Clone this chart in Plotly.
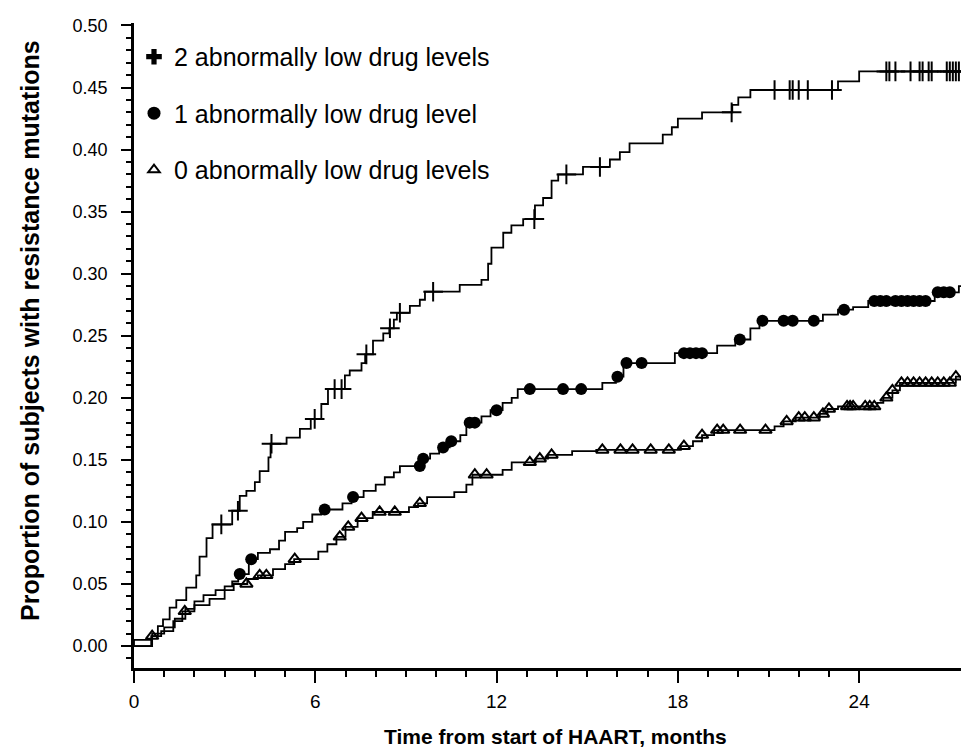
import bisect
import plotly.graph_objects as go

# ---- data (months, cumulative proportion) ----
x_end = 27.9

plus_t = [0.57, 0.79, 0.96, 1.18, 1.40, 1.73, 2.06, 2.17, 2.40, 2.60, 3.25, 3.50, 3.72, 4.00, 4.16,
          4.45, 4.52, 5.05, 5.49, 5.85, 6.20, 6.42, 6.98, 7.14, 7.53, 7.65, 7.91, 8.25, 8.45, 8.60,
          8.70, 9.13, 9.46, 9.63, 10.78, 11.50, 11.72, 11.83, 12.22, 12.49, 12.88, 13.27, 13.54,
          13.82, 14.04, 14.86, 15.75, 16.08, 16.4, 17.5, 17.8, 18.0, 18.8, 19.8, 20.0, 20.4, 23.3, 24.0]
plus_p = [0.008, 0.016, 0.0215, 0.031, 0.037, 0.047, 0.057, 0.072, 0.087, 0.098, 0.109, 0.121, 0.125,
          0.132, 0.141, 0.152, 0.163, 0.168, 0.175, 0.183, 0.195, 0.207, 0.218, 0.222, 0.228, 0.235,
          0.246, 0.252, 0.256, 0.263, 0.2685, 0.274, 0.279, 0.2855, 0.291, 0.295, 0.308, 0.321, 0.333,
          0.339, 0.344, 0.355, 0.361, 0.375, 0.380, 0.386, 0.392, 0.398, 0.405, 0.412, 0.418, 0.425,
          0.430, 0.436, 0.442, 0.448, 0.455, 0.463]
plus_cens = [2.89, 3.44, 4.55, 5.98, 6.64, 6.87, 7.69, 8.47, 8.80, 9.90, 13.25, 14.31, 15.42, 19.78,
             21.2, 21.7, 21.8, 22.0, 22.3, 23.1, 24.9, 25.0, 25.2, 25.7, 26.0, 26.1, 26.3, 26.4,
             26.9, 27.0, 27.1, 27.2, 27.3, 27.7, 27.8, 27.9]

one_t = [0.6, 1.0, 1.35, 1.7, 2.0, 2.3, 2.7, 3.0, 3.25, 3.45, 3.8, 4.1, 4.5, 4.8, 5.0, 5.4, 5.6, 5.9,
         6.2, 6.9, 7.2, 7.6, 8.0, 8.3, 8.6, 8.8, 9.5, 9.8, 10.1, 10.45, 10.8, 11.0, 11.5, 11.8, 12.2,
         12.5, 12.7, 15.5, 15.95, 16.2, 17.9, 19.3, 19.9, 20.4, 20.7, 22.8, 23.3, 23.8, 24.3, 26.5, 27.3]
one_p = [0.010, 0.015, 0.022, 0.030, 0.036, 0.041, 0.045, 0.048, 0.052, 0.058, 0.070, 0.075, 0.078,
         0.085, 0.092, 0.095, 0.100, 0.106, 0.110, 0.115, 0.120, 0.125, 0.130, 0.136, 0.140, 0.145,
         0.151, 0.155, 0.160, 0.165, 0.170, 0.180, 0.185, 0.190, 0.196, 0.200, 0.207, 0.212, 0.217,
         0.228, 0.236, 0.242, 0.247, 0.256, 0.262, 0.267, 0.271, 0.273, 0.278, 0.285, 0.290]
one_cens = [3.5, 3.88, 6.31, 7.25, 9.46, 9.57, 10.23, 10.5, 11.11, 11.28, 12.0, 13.1, 14.2, 14.8,
            16.0, 16.3, 16.8, 18.2, 18.4, 18.6, 18.8, 20.05, 20.8, 21.5, 21.8, 22.5, 23.5, 24.5,
            24.7, 24.9, 25.2, 25.4, 25.6, 25.8, 26.0, 26.2, 26.6, 26.8, 27.0, 27.6, 27.8]

zero_t = [0.0, 0.6, 0.9, 1.3, 1.6, 2.0, 2.5, 3.0, 3.3, 3.75, 4.1, 4.6, 5.0, 5.3, 6.1, 6.4, 6.7, 7.0,
          7.4, 7.9, 9.1, 9.4, 9.7, 10.6, 11.0, 11.2, 12.2, 12.5, 13.3, 13.7, 14.5, 15.3, 18.1, 18.5,
          18.8, 19.2, 21.2, 21.5, 21.9, 22.7, 22.95, 23.3, 24.6, 24.8, 25.1, 25.35, 27.2, 27.7]
zero_p = [0.005, 0.008, 0.012, 0.020, 0.028, 0.033, 0.038, 0.045, 0.050, 0.054, 0.057, 0.062, 0.066,
          0.070, 0.076, 0.082, 0.088, 0.096, 0.103, 0.108, 0.112, 0.115, 0.120, 0.124, 0.130, 0.138,
          0.142, 0.148, 0.151, 0.154, 0.157, 0.158, 0.161, 0.165, 0.170, 0.174, 0.177, 0.181, 0.184,
          0.187, 0.191, 0.193, 0.196, 0.200, 0.206, 0.212, 0.217, 0.221]
zero_cens = [0.6, 1.68, 3.72, 4.16, 4.38, 5.32, 6.81, 7.09, 7.53, 8.13, 8.63, 9.46, 11.28, 11.67,
             13.1, 13.43, 13.82, 15.5, 16.1, 16.5, 17.1, 17.7, 18.2, 18.8, 19.3, 19.5, 20.06, 20.9,
             21.6, 22.0, 22.2, 22.5, 22.8, 23.0, 23.6, 23.7, 23.8, 24.2, 24.35, 24.5, 24.9, 25.1,
             25.4, 25.6, 25.8, 26.0, 26.2, 26.4, 26.6, 26.8, 27.0, 27.2, 27.8]

names = ["2 abnormally low drug levels", "1 abnormally low drug level", "0 abnormally low drug levels"]
x_title = "Time from start of HAART, months"
y_title = "Proportion of subjects with resistance mutations"

x_ticks = [0, 6, 12, 18, 24]
y_ticks = [0.00, 0.05, 0.10, 0.15, 0.20, 0.25, 0.30, 0.35, 0.40, 0.45, 0.50]

FONT = "Arial, Liberation Sans, Helvetica, sans-serif"


def curve_at(ts, ps, t):
    i = bisect.bisect_right(ts, t)
    return 0.0 if i == 0 else ps[i - 1]


series = [
    (plus_t, plus_p, plus_cens, dict(symbol="cross-thin", size=14, color="black",
                                     line=dict(width=2, color="black"))),
    (one_t, one_p, one_cens, dict(symbol="circle", size=12, color="black", line=dict(width=0))),
    (zero_t, zero_p, zero_cens, dict(symbol="triangle-up-open", size=11, color="black",
                                     line=dict(width=2, color="black"))),
]
legend_markers = [
    dict(symbol="cross", size=13, color="black", line=dict(width=0)),
    dict(symbol="circle", size=13, color="black", line=dict(width=0)),
    dict(symbol="triangle-up-open", size=10, color="black", line=dict(width=2, color="black")),
]

fig = go.Figure()
for k, (ts, ps, cens, mk) in enumerate(series):
    xs = [0.0] + ts + [x_end]
    ys = [0.0] + ps + [ps[-1]]
    fig.add_trace(go.Scatter(x=xs, y=ys, mode="lines", line=dict(color="black", width=1.8, shape="hv"),
                             showlegend=False, hoverinfo="skip"))
    fig.add_trace(go.Scatter(x=cens, y=[curve_at(ts, ps, c) for c in cens], mode="markers",
                             marker=mk, showlegend=False, hoverinfo="skip"))
for k in range(3):
    fig.add_trace(go.Scatter(x=[None], y=[None], mode="markers", marker=legend_markers[k], name=names[k],
                             legendgroup=f"g{k}", showlegend=True))

fig.update_layout(
    width=969, height=751,
    margin=dict(l=126, r=0, t=15, b=91),
    paper_bgcolor="white", plot_bgcolor="white",
    font=dict(family=FONT, size=18, color="black"),
    showlegend=True,
    legend=dict(x=0.0, y=0.983, xanchor="left", yanchor="top", bgcolor="rgba(0,0,0,0)",
                font=dict(size=25, family=FONT), tracegroupgap=21, itemwidth=30),
    xaxis=dict(range=[0, x_end], tickvals=x_ticks, ticktext=[str(v) for v in x_ticks],
               showline=True, linewidth=2.5, linecolor="black", ticks="outside", ticklen=12, tickwidth=2,
               tickcolor="black", showgrid=False, zeroline=False,
               minor=dict(tickvals=[v for v in range(1, 25) if v % 6], ticklen=6, tickwidth=2,
                          tickcolor="black", ticks="outside", showgrid=False),
               tickfont=dict(size=19), ticklabelstandoff=2),
    yaxis=dict(range=[-0.0177, 0.502], tickvals=y_ticks, ticktext=[f"{v:.2f}" for v in y_ticks],
               showline=True, linewidth=2.5, linecolor="black", ticks="outside", ticklen=10, tickwidth=2,
               tickcolor="black", showgrid=False, zeroline=False,
               minor=dict(tickvals=[round(i * 0.01, 2) for i in range(-1, 50) if i % 5], ticklen=5,
                          tickwidth=2, tickcolor="black", ticks="outside", showgrid=False),
               tickfont=dict(size=18), ticklabelstandoff=10),
    annotations=[
        dict(text=f"<b>{x_title}</b>", xref="paper", yref="paper", x=0.5, y=-0.106,
             xanchor="center", yanchor="middle", showarrow=False, font=dict(size=21, family=FONT)),
        dict(text=f"<b>{y_title}</b>", xref="paper", yref="paper", x=-0.1234, y=0.524, textangle=-90,
             xanchor="center", yanchor="middle", showarrow=False, font=dict(size=25, family=FONT)),
    ],
)

fig.write_html("out.html")
